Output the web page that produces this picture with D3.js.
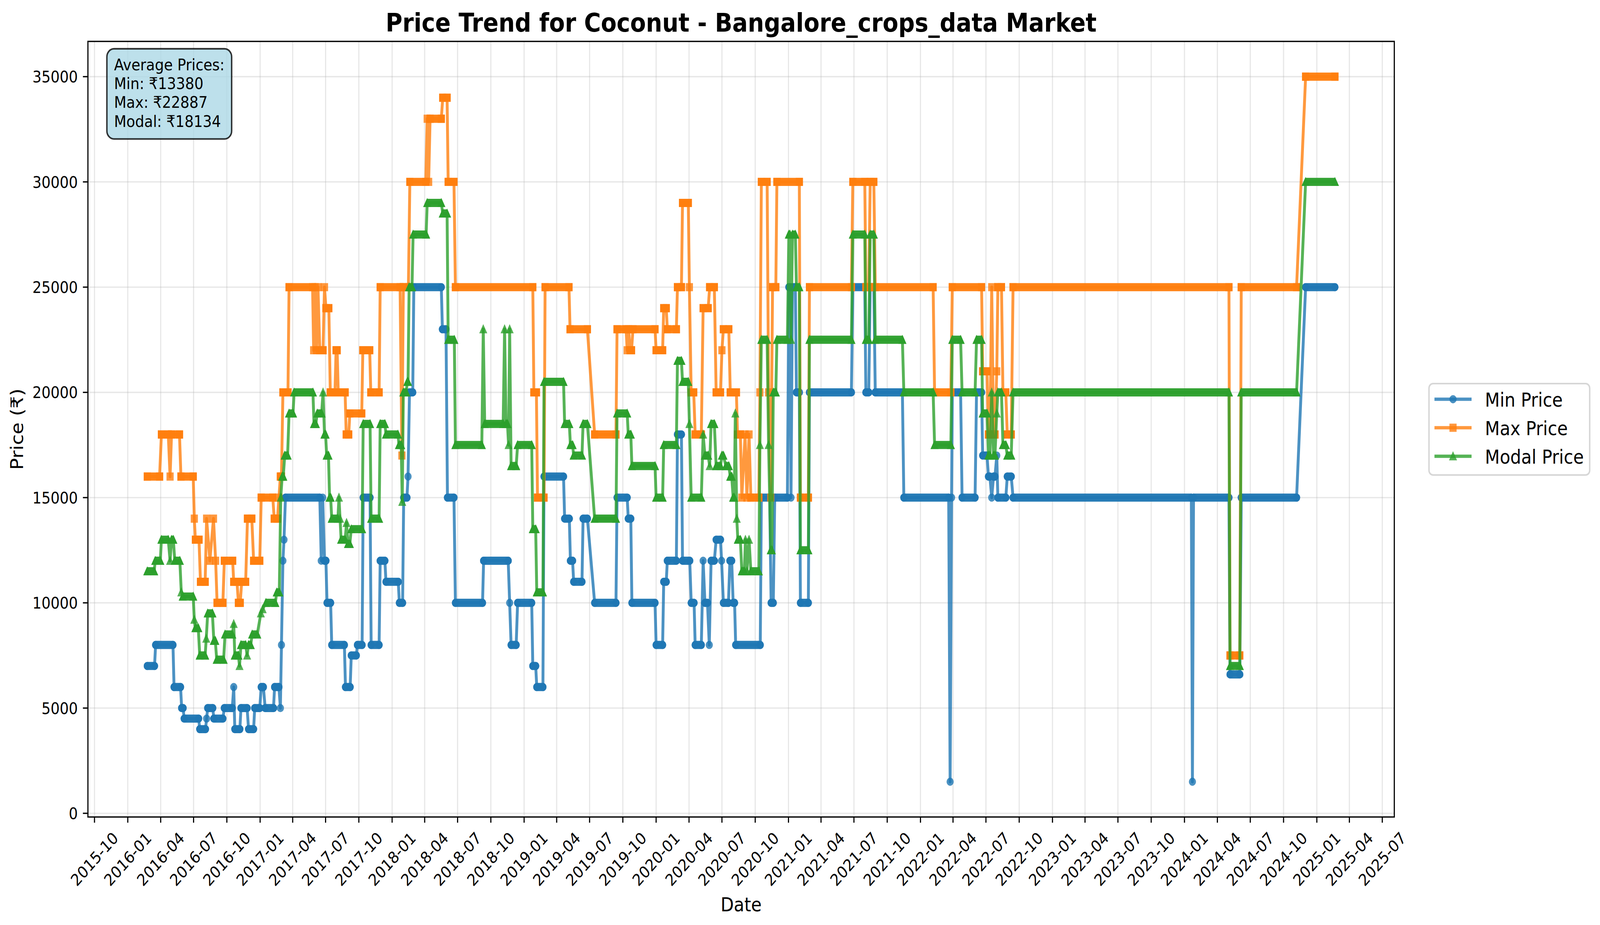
<!DOCTYPE html>
<html>
<head>
<meta charset="utf-8">
<script src="https://cdn.jsdelivr.net/npm/d3@7"></script>
<style>
  html, body { margin: 0; padding: 0; background: #fff; overflow: hidden; }
  svg { display: block; width: 100vw; height: 100vh; font-family: "DejaVu Sans", sans-serif; }
</style>
</head>
<body>
<svg id="chart" viewBox="0 0 4659 2368" preserveAspectRatio="none"></svg>
<script>
// Readings: [date, price]. A run of equal prices is
// stored as its first and last reading.
const minPrice = [
  ["2016-02-24", 7000], ["2016-03-15", 7000], ["2016-03-18", 8000], ["2016-05-05", 8000],
  ["2016-05-08", 6000], ["2016-05-26", 6000], ["2016-05-29", 5000], ["2016-06-02", 5000],
  ["2016-06-05", 4500], ["2016-07-15", 4500], ["2016-07-18", 4000], ["2016-08-03", 4000],
  ["2016-08-06", 4500], ["2016-08-09", 5000], ["2016-08-23", 5000], ["2016-08-26", 4500],
  ["2016-09-20", 4500], ["2016-09-24", 5000], ["2016-10-16", 5000], ["2016-10-20", 6000],
  ["2016-10-23", 4000], ["2016-11-06", 4000], ["2016-11-09", 5000], ["2016-11-26", 5000],
  ["2016-11-30", 4000], ["2016-12-14", 4000], ["2016-12-17", 5000], ["2016-12-31", 5000],
  ["2017-01-04", 6000], ["2017-01-10", 6000], ["2017-01-15", 5000], ["2017-02-07", 5000],
  ["2017-02-10", 6000], ["2017-02-22", 6000], ["2017-02-26", 5000], ["2017-03-01", 8000],
  ["2017-03-05", 12000], ["2017-03-08", 13000], ["2017-03-12", 15000], ["2017-06-15", 15000],
  ["2017-06-19", 12000], ["2017-06-23", 15000], ["2017-06-28", 12000], ["2017-07-02", 12000],
  ["2017-07-05", 10000], ["2017-07-15", 10000], ["2017-07-18", 8000], ["2017-08-22", 8000],
  ["2017-08-25", 6000], ["2017-09-07", 6000], ["2017-09-10", 7500], ["2017-09-24", 7500],
  ["2017-09-27", 8000], ["2017-10-10", 8000], ["2017-10-13", 15000], ["2017-11-01", 15000],
  ["2017-11-04", 8000], ["2017-11-26", 8000], ["2017-11-29", 12000], ["2017-12-12", 12000],
  ["2017-12-15", 11000], ["2018-01-18", 11000], ["2018-01-21", 10000], ["2018-01-30", 10000],
  ["2018-02-02", 15000], ["2018-02-11", 15000], ["2018-02-14", 16000], ["2018-02-18", 20000],
  ["2018-02-27", 20000], ["2018-03-02", 25000], ["2018-05-17", 25000], ["2018-05-20", 23000],
  ["2018-05-30", 23000], ["2018-06-03", 15000], ["2018-06-21", 15000], ["2018-06-25", 10000],
  ["2018-09-08", 10000], ["2018-09-11", 12000], ["2018-11-18", 12000], ["2018-11-22", 10000],
  ["2018-11-26", 8000], ["2018-12-10", 8000], ["2018-12-14", 10000], ["2019-01-22", 10000],
  ["2019-01-25", 7000], ["2019-02-02", 7000], ["2019-02-05", 6000], ["2019-02-22", 6000],
  ["2019-02-25", 16000], ["2019-04-20", 16000], ["2019-04-23", 14000], ["2019-05-06", 14000],
  ["2019-05-09", 12000], ["2019-05-15", 12000], ["2019-05-18", 11000], ["2019-06-10", 11000],
  ["2019-06-13", 14000], ["2019-06-25", 14000], ["2019-07-15", 10000], ["2019-09-12", 10000],
  ["2019-09-15", 15000], ["2019-10-13", 15000], ["2019-10-16", 14000], ["2019-10-23", 14000],
  ["2019-10-26", 10000], ["2019-12-29", 10000], ["2020-01-01", 8000], ["2020-01-19", 8000],
  ["2020-01-22", 11000], ["2020-01-29", 11000], ["2020-02-01", 12000], ["2020-02-26", 12000],
  ["2020-02-29", 18000], ["2020-03-11", 18000], ["2020-03-14", 12000], ["2020-04-03", 12000],
  ["2020-04-07", 10000], ["2020-04-15", 10000], ["2020-04-18", 8000], ["2020-05-05", 8000],
  ["2020-05-10", 12000], ["2020-05-15", 10000], ["2020-05-22", 10000], ["2020-05-27", 8000],
  ["2020-06-01", 12000], ["2020-06-10", 12000], ["2020-06-15", 13000], ["2020-06-27", 13000],
  ["2020-06-30", 12000], ["2020-07-05", 10000], ["2020-07-19", 10000], ["2020-07-23", 12000],
  ["2020-07-28", 12000], ["2020-08-01", 10000], ["2020-08-05", 10000], ["2020-08-08", 8000],
  ["2020-10-15", 8000], ["2020-10-18", 15000], ["2020-11-10", 15000], ["2020-11-14", 10000],
  ["2020-11-20", 10000], ["2020-11-24", 15000], ["2020-12-29", 15000], ["2021-01-02", 25000],
  ["2021-01-05", 25000], ["2021-01-08", 15000], ["2021-01-12", 25000], ["2021-01-20", 25000],
  ["2021-01-23", 20000], ["2021-01-31", 20000], ["2021-02-03", 10000], ["2021-02-25", 10000],
  ["2021-02-28", 20000], ["2021-06-24", 20000], ["2021-06-28", 25000], ["2021-07-31", 25000],
  ["2021-08-03", 20000], ["2021-08-11", 20000], ["2021-08-15", 25000], ["2021-08-25", 25000],
  ["2021-08-29", 20000], ["2021-11-12", 20000], ["2021-11-16", 15000], ["2022-03-20", 15000],
  ["2022-03-24", 1500], ["2022-03-28", 15000], ["2022-03-30", 20000], ["2022-04-22", 20000],
  ["2022-04-26", 15000], ["2022-06-01", 15000], ["2022-06-05", 20000], ["2022-06-19", 20000],
  ["2022-06-22", 17000], ["2022-07-04", 17000], ["2022-07-08", 16000], ["2022-07-12", 16000],
  ["2022-07-17", 15000], ["2022-07-22", 16000], ["2022-07-26", 16000], ["2022-07-31", 17000],
  ["2022-08-03", 15000], ["2022-08-25", 15000], ["2022-08-29", 16000], ["2022-09-09", 16000],
  ["2022-09-14", 15000], ["2024-01-20", 15000], ["2024-01-23", 1500], ["2024-01-26", 15000],
  ["2024-05-03", 15000], ["2024-05-06", 6600], ["2024-06-02", 6600], ["2024-06-06", 15000],
  ["2024-11-06", 15000], ["2024-12-01", 25000], ["2025-02-20", 25000]
];

const maxPrice = [
  ["2016-02-24", 16000], ["2016-03-29", 16000], ["2016-04-03", 18000], ["2016-04-22", 18000],
  ["2016-04-27", 16000], ["2016-05-01", 18000], ["2016-05-23", 18000], ["2016-05-27", 16000],
  ["2016-06-30", 16000], ["2016-07-03", 14000], ["2016-07-06", 13000], ["2016-07-16", 13000],
  ["2016-07-20", 11000], ["2016-08-02", 11000], ["2016-08-06", 14000], ["2016-08-15", 12000],
  ["2016-08-25", 14000], ["2016-08-31", 12000], ["2016-09-04", 10000], ["2016-09-20", 10000],
  ["2016-09-24", 12000], ["2016-10-17", 12000], ["2016-10-20", 11000], ["2016-10-29", 11000],
  ["2016-11-02", 10000], ["2016-11-07", 10000], ["2016-11-11", 11000], ["2016-11-22", 11000],
  ["2016-11-27", 14000], ["2016-12-09", 14000], ["2016-12-14", 12000], ["2016-12-31", 12000],
  ["2017-01-04", 15000], ["2017-02-05", 15000], ["2017-02-09", 14000], ["2017-02-18", 14000],
  ["2017-02-22", 15000], ["2017-02-26", 16000], ["2017-03-01", 16000], ["2017-03-05", 20000],
  ["2017-03-19", 20000], ["2017-03-22", 25000], ["2017-05-26", 25000], ["2017-05-29", 22000],
  ["2017-06-02", 25000], ["2017-06-06", 22000], ["2017-06-10", 25000], ["2017-06-15", 22000],
  ["2017-06-24", 22000], ["2017-06-28", 25000], ["2017-07-02", 24000], ["2017-07-10", 24000],
  ["2017-07-14", 20000], ["2017-07-27", 20000], ["2017-07-30", 22000], ["2017-08-02", 22000],
  ["2017-08-05", 20000], ["2017-08-24", 20000], ["2017-08-27", 18000], ["2017-09-03", 18000],
  ["2017-09-06", 19000], ["2017-10-09", 19000], ["2017-10-12", 22000], ["2017-10-31", 22000],
  ["2017-11-03", 20000], ["2017-11-26", 20000], ["2017-11-29", 25000], ["2018-01-23", 25000],
  ["2018-01-28", 17000], ["2018-02-01", 25000], ["2018-02-15", 25000], ["2018-02-19", 30000],
  ["2018-04-04", 30000], ["2018-04-08", 33000], ["2018-04-12", 30000], ["2018-04-16", 33000],
  ["2018-05-17", 33000], ["2018-05-21", 34000], ["2018-06-02", 34000], ["2018-06-05", 30000],
  ["2018-06-21", 30000], ["2018-06-25", 25000], ["2019-01-25", 25000], ["2019-01-28", 20000],
  ["2019-02-04", 20000], ["2019-02-07", 15000], ["2019-02-25", 15000], ["2019-02-28", 25000],
  ["2019-05-05", 25000], ["2019-05-08", 23000], ["2019-06-25", 23000], ["2019-07-15", 18000],
  ["2019-09-12", 18000], ["2019-09-15", 23000], ["2019-10-10", 23000], ["2019-10-13", 22000],
  ["2019-10-17", 23000], ["2019-10-21", 22000], ["2019-10-25", 22000], ["2019-10-29", 23000],
  ["2019-12-29", 23000], ["2020-01-01", 22000], ["2020-01-19", 22000], ["2020-01-22", 24000],
  ["2020-01-29", 24000], ["2020-02-01", 23000], ["2020-02-26", 23000], ["2020-02-29", 25000],
  ["2020-03-11", 25000], ["2020-03-14", 29000], ["2020-03-30", 29000], ["2020-04-02", 25000],
  ["2020-04-07", 20000], ["2020-04-14", 20000], ["2020-04-18", 18000], ["2020-05-05", 18000],
  ["2020-05-10", 24000], ["2020-05-24", 24000], ["2020-05-28", 25000], ["2020-06-10", 25000],
  ["2020-06-15", 20000], ["2020-06-27", 20000], ["2020-07-01", 22000], ["2020-07-05", 23000],
  ["2020-07-20", 23000], ["2020-07-24", 20000], ["2020-08-10", 20000], ["2020-08-13", 18000],
  ["2020-08-21", 18000], ["2020-08-25", 15000], ["2020-09-03", 18000], ["2020-09-08", 15000],
  ["2020-09-14", 18000], ["2020-09-19", 15000], ["2020-10-11", 15000], ["2020-10-14", 20000],
  ["2020-10-18", 30000], ["2020-11-03", 30000], ["2020-11-07", 20000], ["2020-11-13", 15000],
  ["2020-11-18", 25000], ["2020-11-27", 25000], ["2020-11-30", 30000], ["2021-01-31", 30000],
  ["2021-02-03", 15000], ["2021-02-25", 15000], ["2021-02-28", 25000], ["2021-06-24", 25000],
  ["2021-06-28", 30000], ["2021-07-31", 30000], ["2021-08-03", 25000], ["2021-08-11", 25000],
  ["2021-08-15", 30000], ["2021-08-25", 30000], ["2021-08-29", 25000], ["2022-02-05", 25000],
  ["2022-02-09", 20000], ["2022-03-26", 20000], ["2022-03-30", 25000], ["2022-06-19", 25000],
  ["2022-06-22", 21000], ["2022-07-04", 21000], ["2022-07-08", 18000], ["2022-07-12", 18000],
  ["2022-07-17", 25000], ["2022-07-22", 18000], ["2022-07-26", 18000], ["2022-07-31", 21000],
  ["2022-08-03", 25000], ["2022-08-13", 25000], ["2022-08-17", 20000], ["2022-08-25", 20000],
  ["2022-08-29", 18000], ["2022-09-09", 18000], ["2022-09-14", 25000], ["2024-05-03", 25000],
  ["2024-05-06", 7500], ["2024-06-02", 7500], ["2024-06-06", 25000], ["2024-11-06", 25000],
  ["2024-12-01", 35000], ["2025-02-20", 35000]
];

const modalPrice = [
  ["2016-02-24", 11500], ["2016-03-14", 11500], ["2016-03-17", 12000], ["2016-03-31", 12000],
  ["2016-04-03", 13000], ["2016-04-22", 13000], ["2016-04-27", 12000], ["2016-05-01", 13000],
  ["2016-05-06", 13000], ["2016-05-10", 12000], ["2016-05-24", 12000], ["2016-05-28", 10500],
  ["2016-06-01", 10300], ["2016-06-30", 10300], ["2016-07-03", 9200], ["2016-07-06", 8800],
  ["2016-07-14", 8800], ["2016-07-18", 7500], ["2016-08-02", 7500], ["2016-08-05", 8300],
  ["2016-08-09", 9500], ["2016-08-22", 9500], ["2016-08-26", 8200], ["2016-08-30", 8200],
  ["2016-09-03", 7300], ["2016-09-22", 7300], ["2016-09-26", 8500], ["2016-10-16", 8500],
  ["2016-10-20", 9000], ["2016-10-23", 7500], ["2016-11-02", 7500], ["2016-11-05", 7000],
  ["2016-11-09", 8000], ["2016-11-22", 8000], ["2016-11-26", 7500], ["2016-11-30", 8000],
  ["2016-12-06", 8000], ["2016-12-10", 8500], ["2016-12-24", 8500], ["2017-01-03", 9500],
  ["2017-01-08", 9700], ["2017-01-17", 10000], ["2017-02-12", 10000], ["2017-02-16", 10500],
  ["2017-02-23", 10500], ["2017-02-27", 15000], ["2017-03-03", 16000], ["2017-03-06", 16000],
  ["2017-03-10", 17000], ["2017-03-18", 17000], ["2017-03-22", 19000], ["2017-04-02", 19000],
  ["2017-04-05", 20000], ["2017-05-27", 20000], ["2017-05-30", 18500], ["2017-06-04", 18500],
  ["2017-06-08", 19000], ["2017-06-20", 19000], ["2017-06-24", 20000], ["2017-06-28", 18000],
  ["2017-07-01", 18000], ["2017-07-04", 17000], ["2017-07-09", 17000], ["2017-07-12", 15000],
  ["2017-07-15", 15000], ["2017-07-18", 14000], ["2017-08-04", 14000], ["2017-08-07", 15000],
  ["2017-08-10", 14000], ["2017-08-13", 13000], ["2017-08-24", 13000], ["2017-08-28", 13800],
  ["2017-09-01", 12800], ["2017-09-06", 12800], ["2017-09-10", 13500], ["2017-10-10", 13500],
  ["2017-10-13", 18500], ["2017-11-01", 18500], ["2017-11-04", 14000], ["2017-11-26", 14000],
  ["2017-11-29", 18500], ["2017-12-12", 18500], ["2017-12-15", 18000], ["2018-01-17", 18000],
  ["2018-01-20", 17500], ["2018-01-26", 17500], ["2018-01-29", 14800], ["2018-02-01", 20000],
  ["2018-02-09", 20000], ["2018-02-12", 20500], ["2018-02-14", 20500], ["2018-02-17", 25000],
  ["2018-02-25", 25000], ["2018-02-28", 27500], ["2018-04-05", 27500], ["2018-04-08", 29000],
  ["2018-05-17", 29000], ["2018-05-21", 28500], ["2018-06-02", 28500], ["2018-06-05", 22500],
  ["2018-06-22", 22500], ["2018-06-25", 17500], ["2018-09-06", 17500], ["2018-09-10", 23000],
  ["2018-09-14", 18500], ["2018-11-04", 18500], ["2018-11-08", 23000], ["2018-11-12", 18500],
  ["2018-11-16", 18500], ["2018-11-19", 17500], ["2018-11-22", 23000], ["2018-11-26", 16500],
  ["2018-12-10", 16500], ["2018-12-14", 17500], ["2019-01-22", 17500], ["2019-01-25", 13500],
  ["2019-02-02", 13500], ["2019-02-05", 10500], ["2019-02-22", 10500], ["2019-02-25", 20500],
  ["2019-04-20", 20500], ["2019-04-23", 18500], ["2019-05-06", 18500], ["2019-05-09", 17500],
  ["2019-05-15", 17500], ["2019-05-18", 17000], ["2019-06-10", 17000], ["2019-06-13", 18500],
  ["2019-06-25", 18500], ["2019-07-15", 14000], ["2019-09-12", 14000], ["2019-09-15", 19000],
  ["2019-10-13", 19000], ["2019-10-16", 18000], ["2019-10-23", 18000], ["2019-10-26", 16500],
  ["2019-12-29", 16500], ["2020-01-01", 15000], ["2020-01-19", 15000], ["2020-01-22", 17500],
  ["2020-02-26", 17500], ["2020-02-29", 21500], ["2020-03-11", 21500], ["2020-03-14", 20500],
  ["2020-03-30", 20500], ["2020-04-02", 18500], ["2020-04-07", 15000], ["2020-05-05", 15000],
  ["2020-05-10", 18000], ["2020-05-15", 17000], ["2020-05-24", 17000], ["2020-05-28", 16500],
  ["2020-06-01", 18500], ["2020-06-10", 18500], ["2020-06-15", 16500], ["2020-06-27", 16500],
  ["2020-07-01", 17000], ["2020-07-05", 17000], ["2020-07-12", 16500], ["2020-07-20", 16500],
  ["2020-07-24", 16000], ["2020-07-28", 16000], ["2020-08-01", 15000], ["2020-08-04", 15000],
  ["2020-08-07", 19000], ["2020-08-11", 14000], ["2020-08-14", 13000], ["2020-08-21", 13000],
  ["2020-08-25", 11500], ["2020-09-01", 11500], ["2020-09-04", 13000], ["2020-09-08", 11500],
  ["2020-09-14", 13000], ["2020-09-19", 11500], ["2020-10-11", 11500], ["2020-10-14", 17500],
  ["2020-10-18", 22500], ["2020-11-03", 22500], ["2020-11-07", 17500], ["2020-11-13", 12500],
  ["2020-11-16", 12500], ["2020-11-20", 20000], ["2020-11-27", 20000], ["2020-11-30", 22500],
  ["2020-12-29", 22500], ["2021-01-02", 27500], ["2021-01-05", 27500], ["2021-01-08", 22500],
  ["2021-01-12", 27500], ["2021-01-20", 27500], ["2021-01-23", 25000], ["2021-01-31", 25000],
  ["2021-02-03", 12500], ["2021-02-25", 12500], ["2021-02-28", 22500], ["2021-06-24", 22500],
  ["2021-06-28", 27500], ["2021-07-31", 27500], ["2021-08-03", 22500], ["2021-08-11", 22500],
  ["2021-08-15", 27500], ["2021-08-25", 27500], ["2021-08-29", 22500], ["2021-11-12", 22500],
  ["2021-11-16", 20000], ["2022-02-05", 20000], ["2022-02-09", 17500], ["2022-03-26", 17500],
  ["2022-03-30", 22500], ["2022-04-22", 22500], ["2022-04-26", 20000], ["2022-06-01", 20000],
  ["2022-06-05", 22500], ["2022-06-19", 22500], ["2022-06-22", 19000], ["2022-07-04", 19000],
  ["2022-07-08", 17000], ["2022-07-12", 17000], ["2022-07-17", 20000], ["2022-07-22", 17000],
  ["2022-07-26", 17000], ["2022-07-31", 19000], ["2022-08-03", 20000], ["2022-08-13", 20000],
  ["2022-08-17", 17500], ["2022-08-25", 17500], ["2022-08-29", 17000], ["2022-09-09", 17000],
  ["2022-09-14", 20000], ["2024-05-03", 20000], ["2024-05-06", 7000], ["2024-06-02", 7000],
  ["2024-06-06", 20000], ["2024-11-06", 20000], ["2024-12-01", 30000], ["2025-02-20", 30000]
];

const seriesNames = ["Min Price", "Max Price", "Modal Price"];
const seriesColors = ["#1f77b4", "#ff7f0e", "#2ca02c"];
const seriesMarkers = ["circle", "square", "triangle"];
const yTicks = [0, 5000, 10000, 15000, 20000, 25000, 30000, 35000];
const averageLabels = ["Min", "Max", "Modal"];
const averageValues = [13380, 22887, 18134];

const chartTitle = "Price Trend for Coconut - Bangalore_crops_data Market";

// matplotlib at 300 dpi: 1pt = 300/72 px
const PT = 300 / 72;
const FS_TICK = 10 * PT, FS_LABEL = 12 * PT, FS_TITLE = 16 * PT;
const plot = { left: 256, right: 4060, top: 106, bottom: 2091.5 };
const MS = 4 * PT, MEW = 1 * PT, LW = 2 * PT;

const svg = d3.select("#chart");
const parse = d3.utcParse("%Y-%m-%d");

const series = [minPrice, maxPrice, modalPrice].map((arr, i) => ({
  name: seriesNames[i],
  color: seriesColors[i],
  marker: seriesMarkers[i],
  values: arr.map(([d, v]) => ({ date: parse(d), value: v }))
}));

// matplotlib style 5% margins
const allDates = series.flatMap(s => s.values.map(d => +d.date));
const allVals = series.flatMap(s => s.values.map(d => d.value));
const [t0, t1] = d3.extent(allDates);
const [v0, v1] = d3.extent(allVals);
const tPad = (t1 - t0) * 0.05, vPad = (v1 - v0) * 0.05;

const x = d3.scaleUtc()
  .domain([new Date(t0 - tPad), new Date(t1 + tPad)])
  .range([plot.left, plot.right]);
const y = d3.scaleLinear()
  .domain([v0 - vPad, v1 + vPad])
  .range([plot.bottom, plot.top]);

const xTicks = x.ticks(d3.utcMonth.every(3));

svg.append("rect").attr("width", 4659).attr("height", 2368).attr("fill", "#fff");

svg.append("defs").append("clipPath").attr("id", "plot-clip")
  .append("rect")
  .attr("x", plot.left).attr("y", plot.top)
  .attr("width", plot.right - plot.left).attr("height", plot.bottom - plot.top);

// grid
const grid = svg.append("g")
  .attr("stroke", "#b0b0b0").attr("stroke-opacity", 0.3).attr("stroke-width", 0.8 * PT);
grid.selectAll(".vg").data(xTicks).enter().append("line")
  .attr("x1", d => x(d)).attr("x2", d => x(d))
  .attr("y1", plot.top).attr("y2", plot.bottom);
grid.selectAll(".hg").data(yTicks).enter().append("line")
  .attr("x1", plot.left).attr("x2", plot.right)
  .attr("y1", d => y(d)).attr("y2", d => y(d));

function markerPath(type) {
  const r = MS / 2;
  if (type === "circle") return d3.symbol(d3.symbolCircle, Math.PI * r * r)();
  if (type === "square") return `M${-r},${-r}H${r}V${r}H${-r}Z`;
  return `M0,${-r}L${-r},${r}L${r},${r}Z`;
}

const data = svg.append("g").attr("clip-path", "url(#plot-clip)");
const line = d3.line().x(d => x(d.date)).y(d => y(d.value));

series.forEach(s => {
  const g = data.append("g");
  g.append("path")
    .attr("d", line(s.values))
    .attr("fill", "none")
    .attr("stroke", s.color)
    .attr("stroke-width", LW)
    .attr("stroke-opacity", 0.8)
    .attr("stroke-linejoin", "round");

  // runs of equal readings: the markers overlap into a solid band
  const runs = d3.pairs(s.values).filter(([a, b]) => a.value === b.value);
  const r = MS / 2;
  if (s.marker === "triangle") {
    g.selectAll(".band").data(runs).enter().append("path")
      .attr("d", ([a, b]) => {
        const x1 = x(a.date), x2 = x(b.date), yy = y(a.value);
        return `M${x1 - r},${yy + r}L${x1},${yy - r}L${x2},${yy - r}L${x2 + r},${yy + r}Z`;
      })
      .attr("fill", s.color).attr("stroke", s.color)
      .attr("stroke-width", MEW).attr("stroke-linejoin", "miter")
      .attr("opacity", 0.96);
  } else {
    g.selectAll(".band").data(runs).enter().append("line")
      .attr("x1", ([a]) => x(a.date)).attr("x2", ([, b]) => x(b.date))
      .attr("y1", ([a]) => y(a.value)).attr("y2", ([a]) => y(a.value))
      .attr("stroke", s.color)
      .attr("stroke-width", MS + MEW)
      .attr("stroke-linecap", s.marker === "circle" ? "round" : "square")
      .attr("opacity", 0.96);
  }

  g.selectAll(".mk").data(s.values).enter().append("path")
    .attr("d", markerPath(s.marker))
    .attr("transform", d => `translate(${x(d.date)},${y(d.value)})`)
    .attr("fill", s.color).attr("stroke", s.color)
    .attr("stroke-width", MEW).attr("stroke-linejoin", "miter")
    .attr("opacity", 0.8);
});

// spines
svg.append("rect")
  .attr("x", plot.left).attr("y", plot.top)
  .attr("width", plot.right - plot.left).attr("height", plot.bottom - plot.top)
  .attr("fill", "none").attr("stroke", "#000").attr("stroke-width", 0.8 * PT);

const TICK = 3.5 * PT, PAD = 3.5 * PT;

// y axis
const yAx = svg.append("g");
yAx.selectAll("line").data(yTicks).enter().append("line")
  .attr("x1", plot.left - TICK).attr("x2", plot.left)
  .attr("y1", d => y(d)).attr("y2", d => y(d))
  .attr("stroke", "#000").attr("stroke-width", 0.8 * PT);
yAx.selectAll("text").data(yTicks).enter().append("text")
  .attr("x", plot.left - TICK - PAD)
  .attr("y", d => y(d))
  .attr("dy", "0.36em")
  .attr("text-anchor", "end")
  .attr("font-size", FS_TICK)
  .text(d => d);

// x axis, labels rotated 45 and centred on the tick like matplotlib
const xAx = svg.append("g");
xAx.selectAll("line").data(xTicks).enter().append("line")
  .attr("x1", d => x(d)).attr("x2", d => x(d))
  .attr("y1", plot.bottom).attr("y2", plot.bottom + TICK)
  .attr("stroke", "#000").attr("stroke-width", 0.8 * PT);
const fmt = d3.utcFormat("%Y-%m");
const labelTop = plot.bottom + TICK + PAD;
const textH = FS_TICK * 1.164;
let labelBottom = labelTop;
xAx.selectAll("text").data(xTicks).enter().append("text")
  .attr("font-size", FS_TICK)
  .attr("text-anchor", "middle")
  .text(d => fmt(d))
  .each(function(d) {
    const w = this.getComputedTextLength();
    const side = (w + textH) / Math.SQRT2;
    labelBottom = Math.max(labelBottom, labelTop + side);
    d3.select(this)
      .attr("transform", `translate(${x(d)},${labelTop + side / 2}) rotate(-45)`)
      .attr("dy", FS_TICK * 0.346);
  });

// axis labels + title
const cx = (plot.left + plot.right) / 2;
svg.append("text")
  .attr("x", cx).attr("y", labelBottom + 4 * PT + FS_LABEL * 0.76)
  .attr("text-anchor", "middle").attr("font-size", FS_LABEL)
  .text("Date");
svg.append("text")
  .attr("transform", `translate(67,${(plot.top + plot.bottom) / 2}) rotate(-90)`)
  .attr("text-anchor", "middle").attr("font-size", FS_LABEL)
  .text("Price (₹)");
svg.append("text")
  .attr("x", cx).attr("y", plot.top - 6 * PT)
  .attr("text-anchor", "middle").attr("font-size", FS_TITLE).attr("font-weight", "bold")
  .text(chartTitle);

// average prices box
const infoLines = ["Average Prices:"].concat(
  averageLabels.map((l, i) => `${l}: ₹${averageValues[i]}`));
const info = svg.append("g");
const infoX = plot.left + 0.02 * (plot.right - plot.left);
const infoTop = plot.top + 0.02 * (plot.bottom - plot.top);
const infoPad = 0.5 * FS_TICK;
const lineStep = 48.4;
const infoRect = info.append("rect")
  .attr("fill", "#add8e6").attr("fill-opacity", 0.8)
  .attr("stroke", "#000").attr("stroke-opacity", 0.8).attr("stroke-width", PT);
const infoText = info.selectAll("text").data(infoLines).enter().append("text")
  .attr("x", infoX)
  .attr("y", (d, i) => infoTop + 34 + i * lineStep)
  .attr("font-size", FS_TICK)
  .text(d => d);
let infoW = 0;
infoText.each(function() { infoW = Math.max(infoW, this.getComputedTextLength()); });
const infoH = 34 + 3 * lineStep + FS_TICK * 0.24;
infoRect
  .attr("x", infoX - infoPad).attr("y", infoTop - infoPad)
  .attr("width", infoW + 2 * infoPad).attr("height", infoH + 2 * infoPad)
  .attr("rx", infoPad).attr("ry", infoPad);

// legend
const lg = svg.append("g");
const lgX = 4161, lgY = 982, lgW = 468, lgH = 234;
lg.append("rect")
  .attr("x", lgX).attr("y", lgY).attr("width", lgW).attr("height", lgH)
  .attr("rx", 12).attr("ry", 12)
  .attr("fill", "#fff").attr("fill-opacity", 0.8)
  .attr("stroke", "#cccccc").attr("stroke-opacity", 0.8).attr("stroke-width", PT);
series.forEach((s, i) => {
  const yy = lgY + 40 + i * 73;
  const h1 = lgX + 16, h2 = h1 + 108, hm = (h1 + h2) / 2;
  lg.append("line")
    .attr("x1", h1).attr("x2", h2).attr("y1", yy).attr("y2", yy)
    .attr("stroke", s.color).attr("stroke-width", LW).attr("stroke-opacity", 0.8);
  lg.append("path")
    .attr("d", markerPath(s.marker))
    .attr("transform", `translate(${hm},${yy})`)
    .attr("fill", s.color).attr("stroke", s.color)
    .attr("stroke-width", MEW).attr("opacity", 0.8);
  lg.append("text")
    .attr("x", h2 + 39).attr("y", yy + 19)
    .attr("font-size", FS_LABEL)
    .text(s.name);
});
</script>
</body>
</html>
